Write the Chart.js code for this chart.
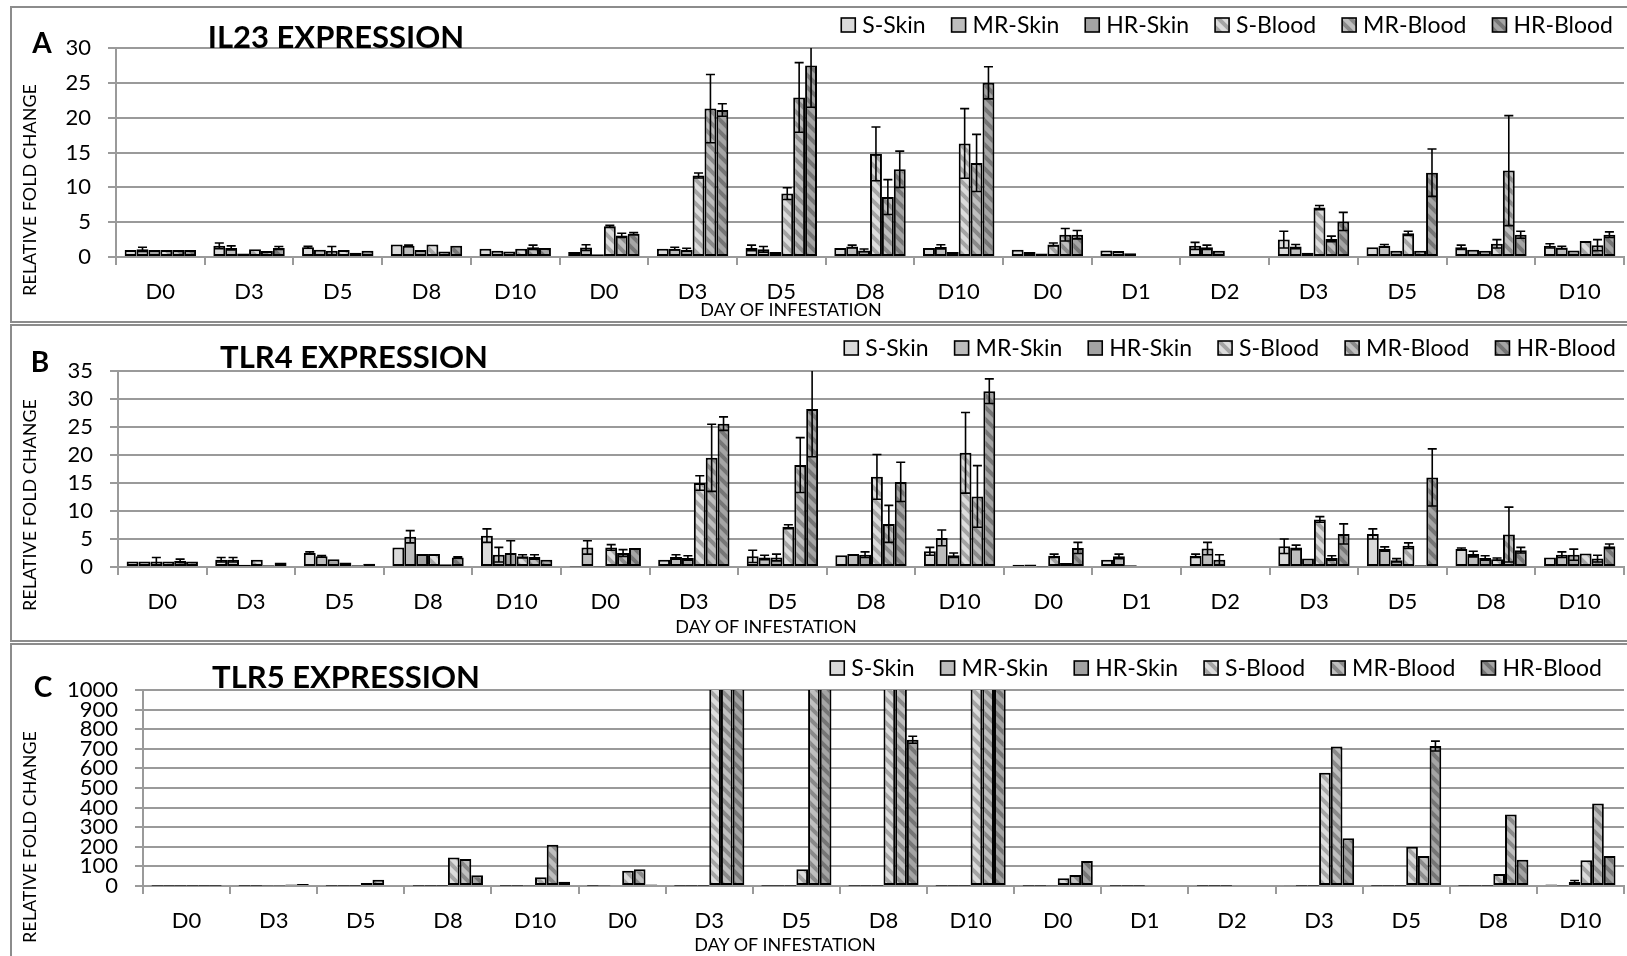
<!DOCTYPE html>
<html>
<head>
<meta charset="utf-8">
<title>IL23 / TLR4 / TLR5 expression</title>
<script src="https://cdn.jsdelivr.net/npm/chart.js@4.4.0/dist/chart.umd.min.js"></script>
<style>
  body { margin: 0; width: 1627px; height: 956px; overflow: hidden; background: #fff; position: relative; font-family: Lato, sans-serif; color: #000; }
  .panel { position: absolute; left: 10px; width: 1650px; border: 2px solid #8c8c8c; box-sizing: border-box; }
  canvas { position: absolute; left: 0; }
  .lbl { position: absolute; transform: translate(-50%, -50%); white-space: nowrap; line-height: 1; }
  .letter { font-weight: bold; font-size: 28px; }
  .title { font-weight: bold; font-size: 31px; }
  .xtitle { font-size: 18px; }
  .ytitle { font-size: 18px; transform: translate(-50%, -50%) rotate(-90deg); }
</style>
</head>
<body>
<div class="panel" style="top:6px;height:317px"></div>
<div class="panel" style="top:324px;height:318px"></div>
<div class="panel" style="top:643px;height:330px"></div>

<canvas id="il23Chart" width="1627" height="322" style="top:0"></canvas>
<canvas id="tlr4Chart" width="1627" height="319" style="top:322px"></canvas>
<canvas id="tlr5Chart" width="1627" height="315" style="top:641px"></canvas>

<div class="lbl letter" style="left:42px;top:42px">A</div>
<div class="lbl title" style="left:336px;top:36px">IL23 EXPRESSION</div>
<div class="lbl ytitle" style="left:29px;top:190px">RELATIVE FOLD CHANGE</div>
<div class="lbl xtitle" style="left:791px;top:309px">DAY OF INFESTATION</div>

<div class="lbl letter" style="left:40px;top:361px">B</div>
<div class="lbl title" style="left:354px;top:356px">TLR4 EXPRESSION</div>
<div class="lbl ytitle" style="left:29px;top:505px">RELATIVE FOLD CHANGE</div>
<div class="lbl xtitle" style="left:766px;top:626px">DAY OF INFESTATION</div>

<div class="lbl letter" style="left:43px;top:686px">C</div>
<div class="lbl title" style="left:346px;top:676px">TLR5 EXPRESSION</div>
<div class="lbl ytitle" style="left:29px;top:837px">RELATIVE FOLD CHANGE</div>
<div class="lbl xtitle" style="left:785px;top:944px">DAY OF INFESTATION</div>

<script>
// day labels: skin D0-D10, blood D0-D10, blood follow-up D0-D10
const days = ['D0', 'D3', 'D5', 'D8', 'D10', 'D0', 'D3', 'D5', 'D8', 'D10', 'D0', 'D1', 'D2', 'D3', 'D5', 'D8', 'D10'];
const groups = ['S-Skin', 'MR-Skin', 'HR-Skin', 'S-Blood', 'MR-Blood', 'HR-Blood'];

// IL23 fold change (mean) and error
const il23SSkin   = [1.0, 1.6, 1.4, 1.8, 1.2, 0.7, 1.2, 1.3, 1.3, 1.3, 1.05, 0.95, 1.6, 2.5, 1.4, 1.4, 1.6];
const il23MRSkin  = [1.1, 1.3, 1.05, 1.6, 0.9, 1.35, 1.2, 1.1, 1.5, 1.45, 0.7, 0.85, 1.4, 1.5, 1.6, 1.05, 1.35];
const il23HRSkin  = [1.0, 0.5, 0.9, 1.0, 0.8, 0.4, 1.05, 0.7, 0.95, 0.7, 0.5, 0.55, 0.9, 0.6, 0.9, 0.9, 0.95];
const il23SBlood  = [1.0, 1.1, 1.0, 1.8, 1.2, 4.4, 11.7, 9.1, 14.8, 16.3, 1.8, null, null, 7.1, 3.4, 1.9, 2.3];
const il23MRBlood = [1.0, 0.85, 0.6, 0.8, 1.4, 3.1, 21.3, 22.9, 8.6, 13.5, 3.2, null, null, 2.6, 0.9, 12.4, 1.7];
const il23HRBlood = [1.0, 1.3, 0.9, 1.6, 1.3, 3.35, 21.1, 27.5, 12.6, 25.0, 3.2, null, null, 5.1, 12.1, 3.2, 3.2];
const il23SSkinErr   = [0, 0.4, 0.15, 0, 0, 0, 0, 0.4, 0, 0, 0, 0, 0.5, 1.2, 0, 0.3, 0.3];
const il23MRSkinErr  = [0.3, 0.3, 0, 0.1, 0, 0.4, 0.2, 0.4, 0.2, 0.3, 0, 0, 0.3, 0.3, 0.2, 0, 0.2];
const il23HRSkinErr  = [0, 0, 0.6, 0, 0, 0, 0.2, 0, 0.2, 0, 0, 0, 0, 0, 0, 0, 0];
const il23SBloodErr  = [0, 0, 0, 0, 0, 0.15, 0.35, 0.85, 3.85, 5.0, 0.2, null, null, 0.3, 0.3, 0.6, 0];
const il23MRBloodErr = [0, 0, 0, 0, 0.3, 0.3, 4.9, 5.0, 2.5, 4.1, 0.9, null, null, 0.4, 0, 7.9, 0.8];
const il23HRBloodErr = [0, 0.2, 0, 0, 0, 0.15, 0.9, 6.0, 2.6, 2.3, 0.6, null, null, 1.3, 3.4, 0.5, 0.4];

// TLR4
const tlr4SSkin   = [1.0, 1.3, 2.5, 3.5, 5.6, 0.1, 1.3, 1.9, 2.1, 2.8, 0.4, 1.3, 2.0, 3.7, 5.9, 3.2, 1.7];
const tlr4MRSkin  = [1.0, 1.3, 1.9, 5.4, 2.2, 3.5, 1.8, 1.7, 2.3, 5.2, 0.45, 1.9, 3.3, 3.5, 3.2, 2.3, 2.2];
const tlr4HRSkin  = [1.0, 0.4, 1.4, 2.3, 2.5, 0.1, 1.6, 1.7, 2.2, 2.1, 0.1, 0.3, 1.3, 1.5, 1.2, 1.6, 2.2];
const tlr4SBlood  = [1.0, 1.3, 0.8, 2.3, 1.9, 3.5, 15.0, 7.2, 16.1, 20.4, 2.0, null, null, 8.5, 3.8, 1.4, 2.4];
const tlr4MRBlood = [1.1, 0.3, 0.3, 0.5, 1.8, 2.5, 19.5, 18.2, 7.7, 12.6, 0.7, null, null, 1.6, 0.3, 5.8, 1.5];
const tlr4HRBlood = [1.0, 0.8, 0.6, 1.7, 1.3, 3.4, 25.6, 28.2, 15.2, 31.4, 3.4, null, null, 5.9, 16.0, 3.0, 3.7];
const tlr4SSkinErr   = [0, 0.4, 0.2, 0, 1.2, 0, 0, 1.1, 0, 0.7, 0, 0, 0.3, 1.3, 0.9, 0.2, 0];
const tlr4MRSkinErr  = [0, 0.4, 0.15, 1.1, 1.3, 1.2, 0.4, 0.4, 0, 1.4, 0, 0.4, 1.1, 0.4, 0.4, 0.5, 0.5];
const tlr4HRSkinErr  = [0.7, 0, 0, 0, 2.2, 0, 0.4, 0.6, 0.5, 0.4, 0, 0, 0.9, 0, 0.3, 0.4, 1.0];
const tlr4SBloodErr  = [0, 0, 0, 0, 0.3, 0.5, 1.3, 0.35, 4.0, 7.2, 0.3, null, null, 0.5, 0.5, 0.2, 0];
const tlr4MRBloodErr = [0.3, 0, 0, 0, 0.4, 0.6, 6.0, 4.9, 3.3, 5.5, 0, null, null, 0.4, 0, 4.9, 0.6];
const tlr4HRBloodErr = [0, 0, 0, 0.1, 0, 0, 1.2, 8.5, 3.5, 2.2, 1.0, null, null, 1.8, 5.1, 0.5, 0.4];

// TLR5 (several blood values run past the 1000 axis limit)
const tlr5SSkin   = [1, 1, 1, 1, 1, 1, 1, 1, 1, 1, 1, 1, 1, 4, 1, 1, 8];
const tlr5MRSkin  = [1, 1, 1, 1, 1, 3, 1, 1, 1, 1, 1, 1, 1, 1, 1, 1, 2];
const tlr5HRSkin  = [1, 2, 1, 1, 2, 5, 1, 1, 1, 1, 2, 1, 1, 1, 1, 1, 20];
const tlr5SBlood  = [1, 3, 15, 145, 45, 78, 1650, 85, 1750, 1850, 40, null, null, 578, 200, 61, 132];
const tlr5MRBlood = [1, 8, 32, 138, 210, 85, 1700, 1600, 1900, 1800, 56, null, null, 712, 153, 365, 421];
const tlr5HRBlood = [1, 10, 5, 55, 22, 8, 1550, 1500, 746, 1700, 127, null, null, 243, 714, 134, 153];
const tlr5SSkinErr   = [0, 0, 0, 0, 0, 0, 0, 0, 0, 0, 0, 0, 0, 0, 0, 0, 0];
const tlr5MRSkinErr  = [0, 0, 0, 0, 0, 0, 0, 0, 0, 0, 0, 0, 0, 0, 0, 0, 0];
const tlr5HRSkinErr  = [0, 0, 0, 0, 0, 0, 0, 0, 0, 0, 0, 0, 0, 0, 0, 0, 8];
const tlr5SBloodErr  = [0, 0, 0, 0, 0, 0, 0, 0, 0, 0, 0, null, null, 0, 0, 0, 0];
const tlr5MRBloodErr = [0, 0, 0, 0, 0, 0, 0, 0, 0, 0, 0, null, null, 0, 0, 0, 0];
const tlr5HRBloodErr = [0, 0, 0, 0, 0, 0, 0, 0, 18, 0, 0, null, null, 0, 25, 0, 0];

const GRID = '#9a9a9a';
const FONT = 'Lato, sans-serif';

// diagonal hatch used for the blood groups
function hatch(base, line) {
  const c = document.createElement('canvas');
  c.width = 12; c.height = 12;
  const g = c.getContext('2d');
  g.fillStyle = base;
  g.fillRect(0, 0, 12, 12);
  g.strokeStyle = line;
  g.lineWidth = 4;
  g.beginPath();
  g.moveTo(-6, -6); g.lineTo(18, 18);
  g.moveTo(-6, 6); g.lineTo(6, 18);
  g.moveTo(6, -6); g.lineTo(18, 6);
  g.stroke();
  return g.createPattern(c, 'repeat');
}

const fills = [
  '#dadada',
  '#bdbdbd',
  '#a3a3a3',
  hatch('#dcdcdc', '#a4a4a4'),
  hatch('#bfbfbf', '#8a8a8a'),
  hatch('#a5a5a5', '#767676')
];

// +/- error bars with caps, clipped to the plot area
const errorBars = {
  id: 'errorBars',
  afterDatasetsDraw(chart) {
    const ctx = chart.ctx;
    const y = chart.scales.y;
    const a = chart.chartArea;
    ctx.save();
    ctx.beginPath();
    ctx.rect(a.left, a.top, a.right - a.left, a.bottom - a.top);
    ctx.clip();
    ctx.strokeStyle = '#000';
    ctx.lineWidth = 1.6;
    chart.data.datasets.forEach((ds, i) => {
      chart.getDatasetMeta(i).data.forEach((bar, j) => {
        const v = ds.data[j];
        const e = ds.errors[j];
        if (v == null || !e) return;
        const hi = y.getPixelForValue(v + e);
        const lo = y.getPixelForValue(v - e);
        const half = bar.width * 0.38;
        ctx.beginPath();
        ctx.moveTo(bar.x, lo); ctx.lineTo(bar.x, hi);
        ctx.moveTo(bar.x - half, hi); ctx.lineTo(bar.x + half, hi);
        ctx.moveTo(bar.x - half, lo); ctx.lineTo(bar.x + half, lo);
        ctx.stroke();
      });
    });
    ctx.restore();
  }
};

// legend row in the top right corner
const cornerLegend = {
  id: 'cornerLegend',
  afterDraw(chart, args, opts) {
    const ctx = chart.ctx;
    const box = 14, gap = 7, space = 26;
    ctx.save();
    ctx.font = '23px ' + FONT;
    ctx.textBaseline = 'middle';
    const sets = chart.data.datasets;
    const widths = sets.map(ds => box + gap + ctx.measureText(ds.label).width);
    let x = opts.right - widths.reduce((s, w) => s + w, 0) - space * (sets.length - 1);
    sets.forEach((ds, i) => {
      ctx.fillStyle = ds.backgroundColor;
      ctx.fillRect(x, opts.y - box / 2, box, box);
      ctx.strokeStyle = '#000';
      ctx.lineWidth = 1.6;
      ctx.strokeRect(x, opts.y - box / 2, box, box);
      ctx.fillStyle = '#000';
      ctx.fillText(ds.label, x + box + gap, opts.y + 1);
      x += widths[i] + space;
    });
    ctx.restore();
  }
};

function makeChart(id, series, errors, cfg) {
  return new Chart(document.getElementById(id), {
    type: 'bar',
    data: {
      labels: days,
      datasets: groups.map((name, i) => ({
        label: name,
        data: series[i],
        errors: errors[i],
        backgroundColor: fills[i],
        borderColor: '#000',
        borderWidth: 2,
        borderSkipped: false,
        categoryPercentage: 0.805,
        barPercentage: 1.0
      }))
    },
    options: {
      responsive: false,
      animation: false,
      layout: { padding: { top: cfg.top, right: 3, left: 0, bottom: 0 } },
      plugins: {
        legend: { display: false },
        tooltip: { enabled: false },
        cornerLegend: { right: cfg.legendRight, y: cfg.legendY }
      },
      scales: {
        x: {
          grid: { drawOnChartArea: false, color: GRID, lineWidth: 2, tickLength: 8 },
          border: { color: GRID, width: 2 },
          ticks: { color: '#000', font: { family: FONT, size: 22 }, padding: 14, autoSkip: false, maxRotation: 0 },
          afterFit: s => { s.height = cfg.xHeight; }
        },
        y: {
          min: 0,
          max: cfg.max,
          grid: { color: GRID, lineWidth: 2, tickLength: 8 },
          border: { color: GRID, width: 2 },
          ticks: {
            stepSize: cfg.step,
            color: '#000',
            font: { family: FONT, size: 22 },
            padding: 17,
            autoSkip: false,
            callback: v => String(v)
          },
          afterFit: s => { s.width = cfg.yWidth; }
        }
      }
    },
    plugins: [errorBars, cornerLegend]
  });
}

makeChart('il23Chart',
  [il23SSkin, il23MRSkin, il23HRSkin, il23SBlood, il23MRBlood, il23HRBlood],
  [il23SSkinErr, il23MRSkinErr, il23HRSkinErr, il23SBloodErr, il23MRBloodErr, il23HRBloodErr],
  { top: 48, xHeight: 65, yWidth: 116, max: 30, step: 5, legendRight: 1613, legendY: 25 });

makeChart('tlr4Chart',
  [tlr4SSkin, tlr4MRSkin, tlr4HRSkin, tlr4SBlood, tlr4MRBlood, tlr4HRBlood],
  [tlr4SSkinErr, tlr4MRSkinErr, tlr4HRSkinErr, tlr4SBloodErr, tlr4MRBloodErr, tlr4HRBloodErr],
  { top: 49, xHeight: 74, yWidth: 118, max: 35, step: 5, legendRight: 1616, legendY: 26 });

makeChart('tlr5Chart',
  [tlr5SSkin, tlr5MRSkin, tlr5HRSkin, tlr5SBlood, tlr5MRBlood, tlr5HRBlood],
  [tlr5SSkinErr, tlr5MRSkinErr, tlr5HRSkinErr, tlr5SBloodErr, tlr5MRBloodErr, tlr5HRBloodErr],
  { top: 49, xHeight: 70, yWidth: 143, max: 1000, step: 100, legendRight: 1602, legendY: 27 });
</script>
</body>
</html>
